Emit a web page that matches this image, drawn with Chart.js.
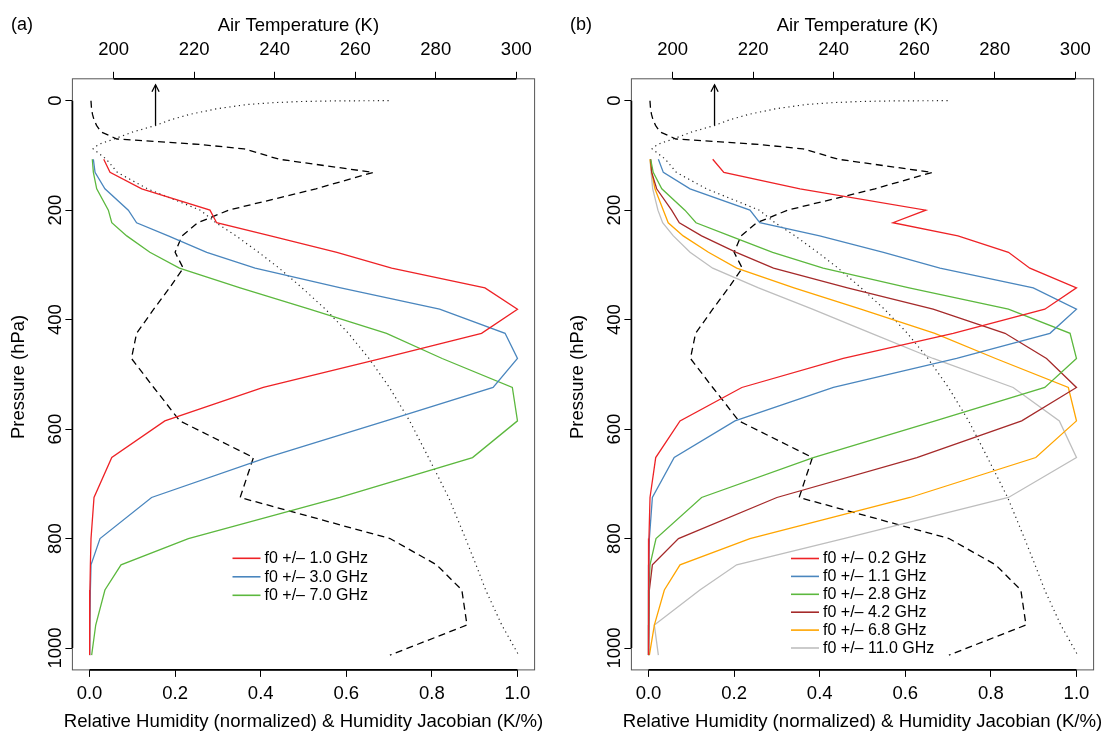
<!DOCTYPE html>
<html>
<head>
<meta charset="utf-8">
<script src="https://cdn.jsdelivr.net/npm/chart.js@4.4.1/dist/chart.umd.min.js"></script>
<style>
html,body{margin:0;padding:0;background:#ffffff;}
#wrap{position:relative;width:1104px;height:733px;overflow:hidden;}
canvas{position:absolute;top:0;}
</style>
</head>
<body>
<div id="wrap">
<canvas id="chartA" width="552" height="733" style="left:0px;width:552px;height:733px;"></canvas>
<canvas id="chartB" width="545" height="733" style="left:559px;width:545px;height:733px;"></canvas>
</div>
<script>
// ---------------- DATA ----------------
// Profile levels (hPa) for temperature and relative humidity
const profilePressure = [0.01, 0.1, 0.5, 1.5, 3.5, 7, 15, 25, 35, 45, 57, 70, 80, 88,
  107, 131, 161, 200, 223, 247, 277, 306, 342, 381, 425, 471, 524, 585, 652, 725, 800, 848, 894, 958, 1013];
// Air temperature (K), top axis
const airTemperature = [268.3, 262, 254, 246.3, 240, 233.1, 225.4, 218.9, 214.1, 210.5, 204.8, 200.1, 196.2, 194.9,
  198.2, 200.9, 208.4, 221.5, 225.4, 230.4, 236.0, 241.1, 246.8, 252.6, 258.3, 263.4, 268.5, 273.5, 278.2, 283.2, 287.4, 290.0, 292.4, 296.4, 300.6];
// Relative humidity (normalized), bottom axis
const relHumidity = [0.0035, 0.0035, 0.0035, 0.0035, 0.0037, 0.004, 0.0047, 0.007, 0.0105, 0.0164, 0.027, 0.064, 0.258, 0.361,
  0.443, 0.663, 0.529, 0.325, 0.253, 0.216, 0.200, 0.219, 0.187, 0.150, 0.110, 0.098, 0.150, 0.211, 0.383, 0.352, 0.702, 0.811, 0.870, 0.882, 0.702];

// Jacobian levels (hPa)
const jacPressure = [107, 131, 161, 200, 223, 247, 277, 306, 342, 381, 425, 471, 524, 585, 652, 725, 800, 848, 894, 958, 1013];

// Panel (a) jacobians
const jacA_1_0 = [0.0332, 0.0479, 0.122, 0.2815, 0.297, 0.423, 0.578, 0.706, 0.924, 1.0, 0.916, 0.683, 0.406, 0.176, 0.052, 0.0105, 0.0035, 0.002, 0.001, 0.0005, 0.0];
const jacA_3_0 = [0.009, 0.0129, 0.036, 0.0907, 0.110, 0.184, 0.274, 0.387, 0.587, 0.818, 0.971, 1.0, 0.943, 0.6925, 0.414, 0.145, 0.0245, 0.0035, 0.002, 0.001, 0.0005];
const jacA_7_0 = [0.0065, 0.009, 0.0168, 0.044, 0.052, 0.087, 0.141, 0.21, 0.352, 0.514, 0.694, 0.824, 0.988, 1.0, 0.895, 0.585, 0.231, 0.0736, 0.036, 0.0145, 0.005];

// Panel (b) jacobians
const jacB_0_2 = [0.15, 0.176, 0.354, 0.648, 0.571, 0.723, 0.841, 0.891, 1.0, 0.926, 0.712, 0.455, 0.218, 0.0736, 0.0168, 0.0035, 0.001, 0.0, 0.0, 0.0, 0.0];
const jacB_1_1 = [0.023, 0.0346, 0.097, 0.237, 0.26, 0.40, 0.549, 0.681, 0.899, 1.0, 0.938, 0.72, 0.432, 0.202, 0.060, 0.009, 0.002, 0.001, 0.0, 0.0, 0.0];
const jacB_2_8 = [0.005, 0.011, 0.031, 0.085, 0.111, 0.19, 0.29, 0.408, 0.609, 0.841, 0.985, 1.0, 0.926, 0.67, 0.385, 0.124, 0.0175, 0.0035, 0.001, 0.0, 0.0];
const jacB_4_2 = [0.005, 0.0075, 0.019, 0.054, 0.072, 0.124, 0.205, 0.292, 0.465, 0.665, 0.833, 0.93, 1.0, 0.872, 0.627, 0.30, 0.07, 0.009, 0.002, 0.001, 0.0];
const jacB_6_8 = [0.0035, 0.0075, 0.015, 0.0346, 0.046, 0.081, 0.14, 0.206, 0.34, 0.496, 0.669, 0.811, 0.981, 1.0, 0.905, 0.611, 0.237, 0.0736, 0.037, 0.0136, 0.002];
const jacB_11_0 = [0.0035, 0.006, 0.0098, 0.022, 0.033, 0.058, 0.097, 0.15, 0.257, 0.383, 0.521, 0.665, 0.852, 0.96, 1.0, 0.841, 0.456, 0.206, 0.12, 0.0136, 0.023];

// Labels
const legendLabelsA = ['f0 +/\u2013 1.0 GHz', 'f0 +/\u2013 3.0 GHz', 'f0 +/\u2013 7.0 GHz'];
const legendLabelsB = ['f0 +/\u2013 0.2 GHz', 'f0 +/\u2013 1.1 GHz', 'f0 +/\u2013 2.8 GHz', 'f0 +/\u2013 4.2 GHz', 'f0 +/\u2013 6.8 GHz', 'f0 +/\u2013 11.0 GHz'];
const bottomTitle = 'Relative Humidity (normalized) & Humidity Jacobian (K/%)';

// Tick values
const pressureTicks = [0, 200, 400, 600, 800, 1000];
const humidityTicks = [0, 0.2, 0.4, 0.6, 0.8, 1.0];
const temperatureTicks = [200, 220, 240, 260, 280, 300];

// Arrow marker in temperature / pressure coordinates
const arrowTemperature = [210.4, 210.4];
const arrowPressure = [45, -29];

// ---------------- STYLE ----------------
const FONT = '"Liberation Sans", Arial, Helvetica, sans-serif';
const FS = 18.5;
const colorsA = ['#EE2226', '#4A86BE', '#5CB83E'];
const colorsB = ['#EE2226', '#4A86BE', '#5CB83E', '#A52A2A', '#FFA500', '#BEBEBE'];

function pts(xs, ys) { return xs.map((v, i) => ({x: v, y: ys[i]})); }

function baseDatasets() {
  return [
    {label: 'RH', data: pts(relHumidity, profilePressure), xAxisID: 'xb', yAxisID: 'y',
      borderColor: '#000', borderWidth: 1.3, borderDash: [7, 4.5], pointRadius: 0, tension: 0, fill: false},
    {label: 'T', data: pts(airTemperature, profilePressure), xAxisID: 'xt', yAxisID: 'y',
      borderColor: '#222', borderWidth: 1.2, borderDash: [1.2, 3.6], pointRadius: 0, tension: 0, fill: false},
    {label: 'arrow', data: pts(arrowTemperature, arrowPressure), xAxisID: 'xt', yAxisID: 'y',
      borderColor: '#000', borderWidth: 1.3, pointRadius: 0, tension: 0, fill: false}
  ];
}

function jacDatasets(series, labels, colors) {
  return series.map((s, i) => ({
    label: labels[i], data: pts(s, jacPressure), xAxisID: 'xb', yAxisID: 'y',
    borderColor: colors[i], borderWidth: 1.3, pointRadius: 0, tension: 0, fill: false
  }));
}

const framePlugin = {
  id: 'frame',
  afterDraw(chart, args, opts) {
    const {ctx, chartArea: a, scales} = chart;
    const xb = scales.xb, xt = scales.xt, y = scales.y;
    ctx.save();
    // plot box
    ctx.strokeStyle = '#555';
    ctx.lineWidth = 1;
    ctx.strokeRect(a.left, a.top, a.right - a.left, a.bottom - a.top);
    // axis lines over tick range
    ctx.strokeStyle = '#000';
    ctx.lineWidth = 1.7;
    ctx.beginPath();
    ctx.moveTo(xb.getPixelForValue(humidityTicks[0]), a.bottom);
    ctx.lineTo(xb.getPixelForValue(humidityTicks[humidityTicks.length - 1]), a.bottom);
    ctx.moveTo(xt.getPixelForValue(temperatureTicks[0]), a.top);
    ctx.lineTo(xt.getPixelForValue(temperatureTicks[temperatureTicks.length - 1]), a.top);
    ctx.moveTo(a.left, y.getPixelForValue(pressureTicks[0]));
    ctx.lineTo(a.left, y.getPixelForValue(pressureTicks[pressureTicks.length - 1]));
    ctx.stroke();
    // rotated y tick labels (parallel to axis)
    ctx.fillStyle = '#000';
    ctx.font = FS + 'px ' + FONT;
    ctx.textAlign = 'center';
    ctx.textBaseline = 'alphabetic';
    y.ticks.forEach(t => {
      const py = y.getPixelForValue(t.value);
      ctx.save();
      ctx.translate(a.left - 11, py);
      ctx.rotate(-Math.PI / 2);
      ctx.fillText(String(t.value), 0, 0);
      ctx.restore();
    });
    // bottom axis title (wider than the plot area, so drawn here)
    ctx.font = '18.6px ' + FONT;
    ctx.textAlign = 'center';
    ctx.textBaseline = 'middle';
    ctx.fillText(bottomTitle, (a.left + a.right) / 2, 721.4);
    // arrow head
    const tipX = xt.getPixelForValue(arrowTemperature[1]);
    const tipY = y.getPixelForValue(arrowPressure[1]);
    ctx.lineWidth = 1.3;
    ctx.beginPath();
    ctx.moveTo(tipX - 3.6, tipY + 7);
    ctx.lineTo(tipX, tipY);
    ctx.lineTo(tipX + 3.6, tipY + 7);
    ctx.stroke();
    // panel label
    ctx.textAlign = 'left';
    ctx.textBaseline = 'middle';
    ctx.font = '18px ' + FONT;
    ctx.fillText(opts.panel, 11, 25);
    // legend
    const lg = opts.legend;
    lg.labels.forEach((lab, i) => {
      const yy = lg.y + i * lg.step;
      ctx.strokeStyle = lg.colors[i];
      ctx.lineWidth = 1.6;
      ctx.beginPath();
      ctx.moveTo(lg.x, yy);
      ctx.lineTo(lg.x + 28, yy);
      ctx.stroke();
      ctx.fillStyle = '#000';
      ctx.font = '16px ' + FONT;
      ctx.textAlign = 'left';
      ctx.textBaseline = 'middle';
      ctx.fillText(lab, lg.x + 32, yy + 0.5);
    });
    ctx.restore();
  }
};

function makeOptions(rightPad, panel, legend) {
  const tickFont = {family: FONT, size: FS};
  return {
    responsive: false,
    animation: false,
    events: [],
    layout: {padding: {left: 0, top: 0, right: rightPad, bottom: 0}, autoPadding: false},
    plugins: {
      legend: {display: false},
      tooltip: {enabled: false},
      frame: {panel: panel, legend: legend}
    },
    scales: {
      y: {
        type: 'linear', position: 'left', reverse: true, min: -40, max: 1040,
        afterBuildTicks: s => { s.ticks = pressureTicks.map(v => ({value: v})); },
        afterFit: s => { s.width = 72.4; },
        ticks: {display: false},
        grid: {drawOnChartArea: false, drawTicks: true, tickLength: 7, color: '#000', lineWidth: 1},
        border: {display: false},
        title: {display: true, text: 'Pressure (hPa) ', color: '#000', font: {family: FONT, size: FS}, padding: {top: 8, bottom: 0}}
      },
      xb: {
        type: 'linear', position: 'bottom', min: -0.04, max: 1.04,
        afterBuildTicks: s => { s.ticks = humidityTicks.map(v => ({value: v})); },
        afterFit: s => { s.height = 63.1; },
        ticks: {color: '#000', font: tickFont, padding: 5.5, maxRotation: 0, callback: v => Number(v).toFixed(1)},
        grid: {drawOnChartArea: false, drawTicks: true, tickLength: 7, color: '#000', lineWidth: 1},
        border: {display: false},
        title: {display: false}
      },
      xt: {
        type: 'linear', position: 'top', min: 189.75, max: 304.55,
        afterBuildTicks: s => { s.ticks = temperatureTicks.map(v => ({value: v})); },
        afterFit: s => { s.height = 78.8; },
        ticks: {color: '#000', font: tickFont, padding: 11, maxRotation: 0, callback: v => String(v)},
        grid: {drawOnChartArea: false, drawTicks: true, tickLength: 7, color: '#000', lineWidth: 1},
        border: {display: false},
        title: {display: true, text: 'Air Temperature (K)  ', color: '#000', font: {family: FONT, size: FS}, padding: {top: 15, bottom: 0}}
      }
    }
  };
}

new Chart(document.getElementById('chartA'), {
  type: 'line',
  data: {datasets: jacDatasets([jacA_1_0, jacA_3_0, jacA_7_0], legendLabelsA, colorsA).concat(baseDatasets())},
  options: makeOptions(17.4, '(a)', {labels: legendLabelsA, colors: colorsA, x: 232.5, y: 558.3, step: 18.5}),
  plugins: [framePlugin]
});

new Chart(document.getElementById('chartB'), {
  type: 'line',
  data: {datasets: jacDatasets([jacB_0_2, jacB_1_1, jacB_2_8, jacB_4_2, jacB_6_8, jacB_11_0], legendLabelsB, colorsB).concat(baseDatasets())},
  options: makeOptions(10.4, '(b)', {labels: legendLabelsB, colors: colorsB, x: 232, y: 558.5, step: 17.9}),
  plugins: [framePlugin]
});
</script>
</body>
</html>
